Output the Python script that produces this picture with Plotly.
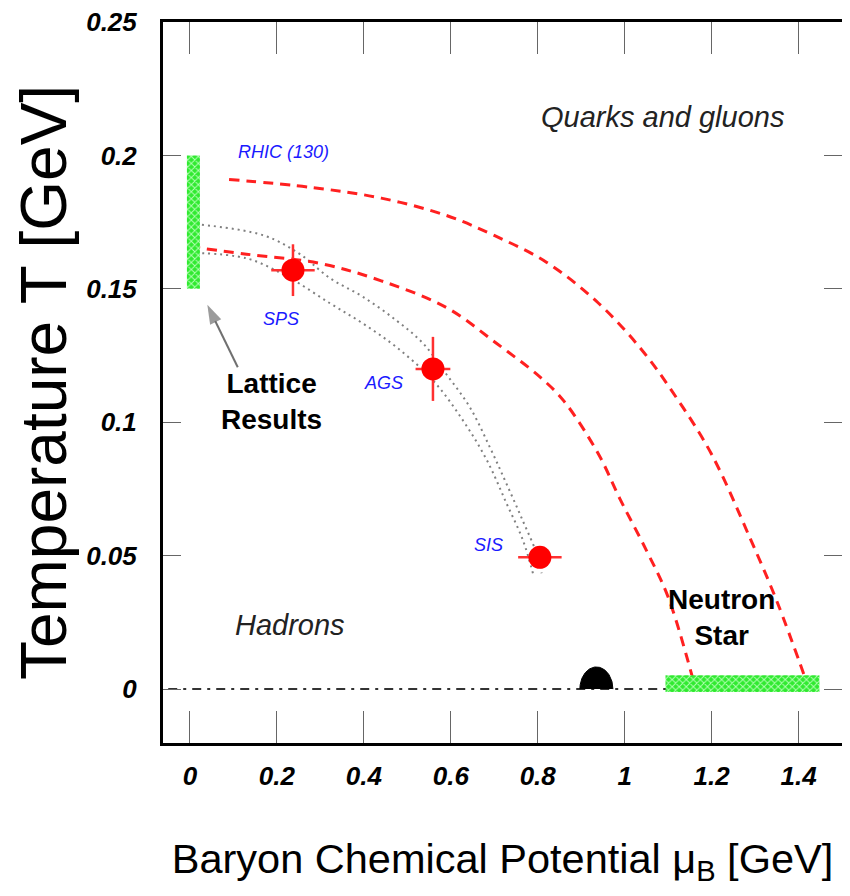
import numpy as np
import plotly.graph_objects as go

# ---------------- data ----------------
# red dashed freeze-out / phase boundary curves
upper_red_mu = [0.09, 0.28, 0.44, 0.59, 0.70, 0.82, 0.94, 1.04, 1.12, 1.20, 1.29, 1.35, 1.42]
upper_red_T = [0.191, 0.188, 0.184, 0.1775, 0.170, 0.160, 0.1446, 0.127, 0.109, 0.088, 0.056, 0.033, 0.002]

lower_red_mu = [0.0, 0.13, 0.30, 0.44, 0.59, 0.705, 0.805, 0.86, 0.94, 0.99, 1.05, 1.10, 1.16]
lower_red_T = [0.1658, 0.163, 0.1595, 0.153, 0.143, 0.1296, 0.117, 0.108, 0.088, 0.071, 0.052, 0.0345, 0.002]

# gray dotted curves
upper_dot_mu = [0.0, 0.17, 0.253, 0.322, 0.398, 0.476, 0.536, 0.59, 0.644, 0.69, 0.728, 0.766, 0.797, 0.809]
upper_dot_T = [0.1745, 0.170, 0.163, 0.154, 0.147, 0.138, 0.1296, 0.118, 0.1056, 0.0906, 0.077, 0.063, 0.051, 0.0434]

lower_dot_mu = [0.0, 0.131, 0.23, 0.322, 0.398, 0.476, 0.559, 0.628, 0.683, 0.728, 0.766, 0.789]
lower_dot_T = [0.1635, 0.1614, 0.154, 0.1446, 0.137, 0.128, 0.1157, 0.1007, 0.0858, 0.0697, 0.0558, 0.0434]

# experimental freeze-out points
exp_names = ["SPS", "AGS", "SIS"]
exp_mu = [0.237, 0.559, 0.805]
exp_T = [0.157, 0.120, 0.0494]
exp_mu_err = [0.05, 0.04, 0.05]
exp_T_err = [0.0097, 0.012, 0.0]

# lattice band and neutron star band
lattice_mu = [-0.007, 0.023]
lattice_T = [0.150, 0.200]
nstar_mu = [1.094, 1.448]
nstar_T = [-0.0011, 0.0052]

# nuclear matter ground state
nucleon_mu = 0.935
nucleon_halfwidth = 0.038
nucleon_height = 0.0083

# T = 0 dash-dot line
zero_line_mu = [-0.05, 1.10]
zero_line_T = [0.0, 0.0]

# arrow pointing at the lattice band (tail -> head)
arrow_mu = [0.110, 0.040]
arrow_T = [0.1206, 0.1440]

x_ticks = [0, 0.2, 0.4, 0.6, 0.8, 1.0, 1.2, 1.4]
x_ticktext = ["0", "0.2", "0.4", "0.6", "0.8", "1", "1.2", "1.4"]
y_ticks = [0, 0.05, 0.10, 0.15, 0.20, 0.25]
y_ticktext = ["0", "0.05", "0.1", "0.15", "0.2", "0.25"]

FONT = "Liberation Sans, Arial, Helvetica, sans-serif"

fig = go.Figure()

# zero temperature dash-dot line
fig.add_trace(go.Scatter(x=zero_line_mu, y=zero_line_T, mode="lines",
                         line=dict(color="#333333", width=2, dash="9px,6px,3px,6px"),
                         hoverinfo="skip", showlegend=False))

# gray dotted curves
for mu, T in [(upper_dot_mu, upper_dot_T), (lower_dot_mu, lower_dot_T)]:
    fig.add_trace(go.Scatter(x=mu, y=T, mode="lines", line_shape="spline",
                             line=dict(color="#808080", width=2, dash="2px,4px"),
                             showlegend=False))

# red dashed curves
for mu, T in [(upper_red_mu, upper_red_T), (lower_red_mu, lower_red_T)]:
    fig.add_trace(go.Scatter(x=mu, y=T, mode="lines", line_shape="spline",
                             line=dict(color="#ff2020", width=3, dash="10px,7px"),
                             showlegend=False))

# lattice band / neutron star band
def rect(xs, ys):
    return [xs[0], xs[1], xs[1], xs[0], xs[0]], [ys[0], ys[0], ys[1], ys[1], ys[0]]

for xs, ys in [(lattice_mu, lattice_T), (nstar_mu, nstar_T)]:
    rx, ry = rect(xs, ys)
    fig.add_trace(go.Scatter(x=rx, y=ry, mode="lines", fill="toself",
                             fillcolor="#3cf03c", line=dict(width=0, color="#3cf03c"),
                             fillpattern=dict(shape="x", fgcolor="#b4ffb4", bgcolor="#30ea30",
                                              size=5, solidity=0.35, fillmode="replace"),
                             showlegend=False, hoverinfo="skip"))

# nucleon half-disc
theta = np.linspace(0, np.pi, 60)
fig.add_trace(go.Scatter(x=nucleon_mu + nucleon_halfwidth * np.cos(theta),
                         y=nucleon_height * np.sin(theta),
                         mode="lines", fill="toself", fillcolor="black",
                         line=dict(color="black", width=1), showlegend=False))

# arrow
fig.add_trace(go.Scatter(x=arrow_mu, y=arrow_T, mode="lines+markers",
                         line=dict(color="#707070", width=2),
                         marker=dict(symbol=["circle", "arrow"], size=[0, 20], color="#707070",
                                     angleref="previous", line=dict(width=0)),
                         showlegend=False, hoverinfo="skip"))

# experimental points
fig.add_trace(go.Scatter(x=exp_mu, y=exp_T, mode="markers",
                         marker=dict(color="#ff0000", size=23, line=dict(width=0)),
                         error_x=dict(type="data", array=exp_mu_err, color="#ff3030",
                                      thickness=2.5, width=0),
                         error_y=dict(type="data", array=exp_T_err, color="#ff3030",
                                      thickness=2.5, width=0),
                         showlegend=False))

annotations = []
# blue labels
blue_labels = [("RHIC (130)", 0.215, 0.2013), ("SPS", 0.21, 0.1387), ("AGS", 0.446, 0.1146),
               ("SIS", 0.686, 0.0539)]
for txt, x, y in blue_labels:
    annotations.append(dict(x=x, y=y, xref="x", yref="y", text=txt, showarrow=False,
                            font=dict(family=FONT, size=18, color="#1a1aff", style="italic")))

annotations += [
    dict(x=1.087, y=0.2143, xref="x", yref="y", text="Quarks and gluons", showarrow=False,
         font=dict(family=FONT, size=29, color="#222222", style="italic")),
    dict(x=0.23, y=0.0240, xref="x", yref="y", text="Hadrons", showarrow=False,
         font=dict(family=FONT, size=29, color="#222222", style="italic")),
    dict(x=0.188, y=0.1078, xref="x", yref="y", text="Lattice<br>Results", showarrow=False,
         font=dict(family=FONT, size=28, color="black", weight="bold")),
    dict(x=1.223, y=0.0267, xref="x", yref="y", text="Neutron<br>Star", showarrow=False,
         font=dict(family=FONT, size=28, color="black", weight="bold")),
]

tickfont = dict(family=FONT, size=26, color="black", weight="bold", style="italic")

# the page body has an 8px default margin, so the figure is sized to fit inside it
fig.update_layout(
    width=834, height=880,
    margin=dict(l=155, r=0, t=14, b=145),
    paper_bgcolor="white", plot_bgcolor="white",
    showlegend=False,
    annotations=annotations,
    xaxis=dict(range=[-0.062, 1.5], tickvals=x_ticks, ticktext=x_ticktext,
               ticks="inside", ticklen=32, tickwidth=1.2, tickcolor="#666666",
               showline=True, linecolor="black", linewidth=3, mirror="allticks",
               showgrid=False, zeroline=False, tickfont=tickfont, ticklabelstandoff=8,
               ticklabeloverflow="allow", automargin=False,
               title=dict(text="Baryon Chemical Potential μ<sub>B</sub> [GeV]",
                          font=dict(family=FONT, size=41.5, color="black"), standoff=54)),
    yaxis=dict(range=[-0.0202, 0.25], tickvals=y_ticks, ticktext=y_ticktext,
               ticks="inside", ticklen=18, tickwidth=1.2, tickcolor="#666666",
               showline=True, linecolor="black", linewidth=3, mirror="allticks",
               showgrid=False, zeroline=False, tickfont=tickfont, ticklabelstandoff=18,
               ticklabeloverflow="allow", automargin=False,
               title=dict(text="Temperature T [GeV]",
                          font=dict(family=FONT, size=64, color="black"), standoff=20)),
)

fig.write_html("out.html")
